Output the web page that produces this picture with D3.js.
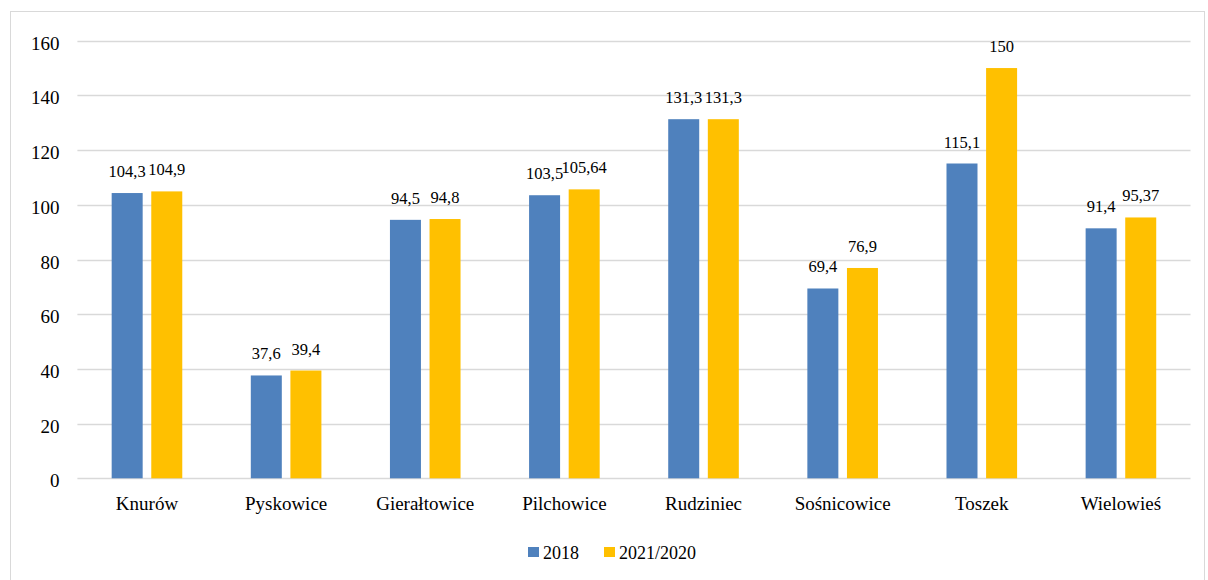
<!DOCTYPE html>
<html>
<head>
<meta charset="utf-8">
<script src="https://cdn.jsdelivr.net/npm/d3@7"></script>
<style>
  html, body { margin: 0; padding: 0; background: #fff; }
  svg { display: block; }
</style>
</head>
<body>
<svg id="chart" width="1208" height="580"></svg>
<script>
// Municipalities and the two compared periods
const categories = ["Knurów", "Pyskowice", "Gierałtowice", "Pilchowice", "Rudziniec", "Sośnicowice", "Toszek", "Wielowieś"];
const seriesNames = ["2018", "2021/2020"];
const values2018 = [104.3, 37.6, 94.5, 103.5, 131.3, 69.4, 115.1, 91.4];
const values2021 = [104.9, 39.4, 94.8, 105.64, 131.3, 76.9, 150, 95.37];
const yTicks = [0, 20, 40, 60, 80, 100, 120, 140, 160];

const colors = ["#4F81BD", "#FFC000"];
const FONT = "'Liberation Serif', 'Times New Roman', Times, 'Liberation Sans', sans-serif";
const svg = d3.select("#chart");

// Outer chart frame
svg.append("rect")
  .attr("x", 10.5).attr("y", 11.5)
  .attr("width", 1194).attr("height", 600)
  .attr("fill", "none").attr("stroke", "#d9d9d9").attr("stroke-width", 1);

const plot = { left: 77.4, right: 1190.5, top: 40.7, bottom: 478.3 };

const x = d3.scaleBand().domain(categories).range([plot.left, plot.right]).padding(0);
const y = d3.scaleLinear().domain([0, 160]).range([plot.bottom, plot.top]);

// Inner offsets for the two bars of each group
const barWidth = 31, barGap = 8.6;
const sub = d3.scaleOrdinal().domain(seriesNames)
  .range([-(barWidth + barGap / 2), barGap / 2]);

// Horizontal gridlines
svg.append("g").selectAll("line").data(yTicks).join("line")
  .attr("x1", plot.left).attr("x2", plot.right)
  .attr("y1", d => Math.round(y(d)) + 0.5).attr("y2", d => Math.round(y(d)) + 0.5)
  .attr("stroke", "#d9d9d9").attr("stroke-width", 1.5);

// Y axis tick labels
const yAxis = d3.axisLeft(y).tickValues(yTicks).tickSize(0).tickPadding(0).tickFormat(d3.format("d"));
const yg = svg.append("g").attr("transform", `translate(${59.5},0)`).call(yAxis);
yg.select(".domain").remove();
yg.selectAll("text")
  .style("font-family", FONT).style("font-size", "19px")
  .attr("dy", "0.45em").attr("fill", "#000");

const series = [
  { name: seriesNames[0], values: values2018, color: colors[0] },
  { name: seriesNames[1], values: values2021, color: colors[1] }
];

const fmt = v => String(v).replace(".", ",");

series.forEach(s => {
  const g = svg.append("g");
  const data = categories.map((c, i) => ({ c, v: s.values[i] }));
  g.selectAll("rect").data(data).join("rect")
    .attr("x", d => x(d.c) + x.bandwidth() / 2 + sub(s.name))
    .attr("width", barWidth)
    .attr("y", d => y(d.v))
    .attr("height", d => y(0) - y(d.v))
    .attr("fill", s.color);
  g.selectAll("text").data(data).join("text")
    .attr("x", d => x(d.c) + x.bandwidth() / 2 + sub(s.name) + barWidth / 2)
    .attr("y", d => y(d.v) - 16)
    .attr("text-anchor", "middle")
    .style("font-family", FONT).style("font-size", "16.5px")
    .text(d => fmt(d.v));
});

// Category labels
svg.append("g").selectAll("text").data(categories).join("text")
  .attr("x", d => x(d) + x.bandwidth() / 2)
  .attr("y", 509.5)
  .attr("text-anchor", "middle")
  .style("font-family", FONT).style("font-size", "19px")
  .text(d => d);

// Legend
const legendItems = [
  { name: seriesNames[0], color: colors[0], x: 528 },
  { name: seriesNames[1], color: colors[1], x: 604 }
];
const lg = svg.append("g");
legendItems.forEach(it => {
  lg.append("rect").attr("x", it.x).attr("y", 547).attr("width", 11).attr("height", 10).attr("fill", it.color);
  lg.append("text").attr("x", it.x + 15).attr("y", 559)
    .style("font-family", FONT).style("font-size", "18px")
    .text(it.name);
});
</script>
</body>
</html>
